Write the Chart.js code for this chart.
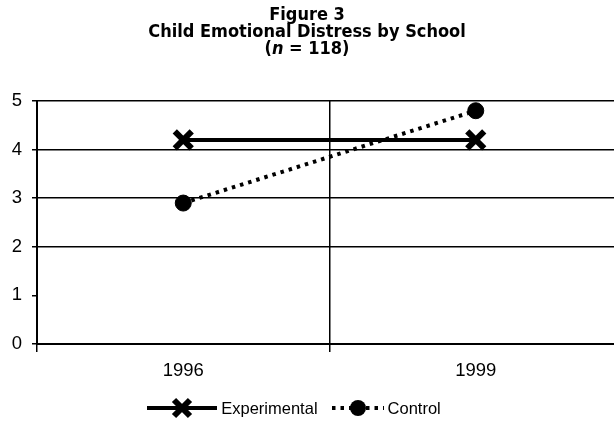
<!DOCTYPE html>
<html>
<head>
<meta charset="utf-8">
<script src="https://cdn.jsdelivr.net/npm/chart.js@4/dist/chart.umd.min.js"></script>
<style>
    html, body { margin: 0; padding: 0; background: #fff; overflow: hidden; width: 614px; height: 425px; }
    #wrap { position: relative; width: 614px; height: 425px; overflow: hidden; }
    #chartCanvas { position: absolute; left: 0; top: 0; }
    #title {
        position: absolute; left: 0; top: 5px; width: 614px; text-align: center;
        font-family: "DejaVu Sans Condensed", "Liberation Sans Narrow", sans-serif;
        font-weight: bold; font-size: 18px; line-height: 17px; color: #000;
    }
    #legend {
        position: absolute; left: 0; top: 397px; width: 588px;
        display: flex; justify-content: center; align-items: center;
        font-family: "Liberation Sans", Arial, sans-serif; font-size: 16.5px; color: #000;
    }
    .legend-item { display: flex; align-items: center; margin: 0 7px; }
    .legend-item canvas { margin-right: 4px; }
</style>
</head>
<body>
<div id="wrap">
    <canvas id="chartCanvas" width="640" height="425"></canvas>
    <div id="title">Figure 3<br>Child Emotional Distress by School<br>(<i>n</i> = 118)</div>
    <div id="legend"></div>
</div>
<script>
// Données
const categories = ['1996', '1999'];
const experimental = [4.2, 4.2];
const control = [2.9, 4.8];
const yTicks = [0, 1, 2, 3, 4, 5];

const seriesNames = ['Experimental', 'Control'];

// Icônes de légende (trait + marqueur)
function makeLegendIcon(width, dashed, marker) {
    const c = document.createElement('canvas');
    c.width = width;
    c.height = 22;
    const ctx = c.getContext('2d');
    ctx.strokeStyle = '#000';
    ctx.fillStyle = '#000';
    ctx.lineWidth = 4;
    if (dashed) ctx.setLineDash([3.5, 5]);
    ctx.beginPath();
    ctx.moveTo(0, 11);
    ctx.lineTo(width, 11);
    ctx.stroke();
    ctx.setLineDash([]);
    const cx = width / 2;
    if (marker === 'cross') {
        ctx.lineWidth = 6;
        ctx.beginPath();
        ctx.moveTo(cx - 8, 3); ctx.lineTo(cx + 8, 19);
        ctx.moveTo(cx + 8, 3); ctx.lineTo(cx - 8, 19);
        ctx.stroke();
    } else {
        ctx.beginPath();
        ctx.arc(cx, 11, 8, 0, Math.PI * 2);
        ctx.fill();
    }
    return c;
}

function buildLegend() {
    const legend = document.getElementById('legend');
    const items = [
        { name: seriesNames[0], icon: makeLegendIcon(70, false, 'cross') },
        { name: seriesNames[1], icon: makeLegendIcon(52, true, 'circle') }
    ];
    items.forEach(item => {
        const div = document.createElement('div');
        div.className = 'legend-item';
        div.appendChild(item.icon);
        const span = document.createElement('span');
        span.textContent = item.name;
        div.appendChild(span);
        legend.appendChild(div);
    });
}

function createChart() {
    const ctx = document.getElementById('chartCanvas');

    new Chart(ctx, {
        type: 'line',
        data: {
            labels: categories,
            datasets: [
                {
                    label: seriesNames[0],
                    data: experimental,
                    borderColor: '#000',
                    backgroundColor: '#000',
                    borderWidth: 4,
                    pointStyle: 'crossRot',
                    pointRadius: 12,
                    pointBorderWidth: 6,
                    pointBorderColor: '#000',
                    tension: 0
                },
                {
                    label: seriesNames[1],
                    data: control,
                    borderColor: '#000',
                    backgroundColor: '#000',
                    borderWidth: 4,
                    borderDash: [3.5, 5],
                    pointStyle: 'circle',
                    pointRadius: 8,
                    pointBorderWidth: 1,
                    pointBorderColor: '#000',
                    tension: 0
                }
            ]
        },
        options: {
            responsive: false,
            animation: false,
            layout: { padding: { top: 101, right: 17, left: 0, bottom: 0 } },
            plugins: {
                legend: { display: false },
                title: { display: false },
                tooltip: { enabled: false }
            },
            scales: {
                x: {
                    offset: true,
                    afterFit: (scale) => { scale.height = 81; },
                    border: { display: true, color: '#000', width: 2 },
                    grid: {
                        offset: true,
                        color: '#000',
                        lineWidth: 1.5,
                        tickLength: 8,
                        drawOnChartArea: true
                    },
                    ticks: {
                        color: '#000',
                        padding: 8,
                        font: { family: 'Liberation Sans, Arial, sans-serif', size: 18.5 }
                    }
                },
                y: {
                    min: 0,
                    max: 5,
                    afterFit: (scale) => { scale.width = 37; },
                    afterBuildTicks: (scale) => {
                        scale.ticks = yTicks.map(v => ({ value: v }));
                    },
                    border: { display: true, color: '#000', width: 2 },
                    grid: {
                        color: (c) => (c.tick && c.tick.value === 1) ? 'rgba(0,0,0,0)' : '#000',
                        lineWidth: 1.5,
                        tickLength: 5,
                        tickColor: '#000'
                    },
                    ticks: {
                        color: '#000',
                        padding: 10,
                        font: { family: 'Liberation Sans, Arial, sans-serif', size: 18.5 }
                    }
                }
            }
        }
    });
}

buildLegend();
createChart();
</script>
</body>
</html>
